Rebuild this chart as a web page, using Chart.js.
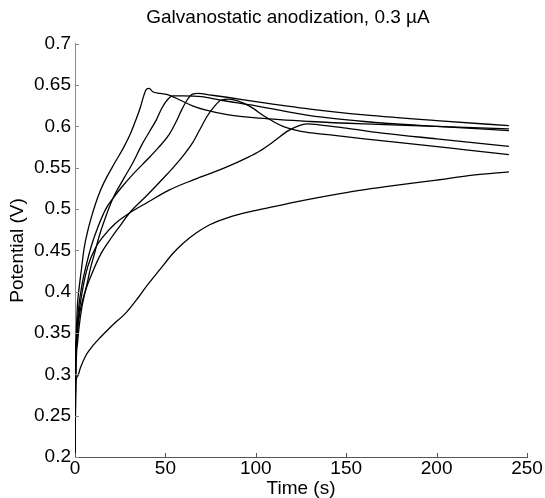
<!DOCTYPE html>
<html><head><meta charset="utf-8">
<script src="https://cdn.jsdelivr.net/npm/chart.js@4.4.1/dist/chart.umd.min.js"></script>
<style>html,body{margin:0;padding:0;background:#fff}#wrap{width:545px;height:498px}</style>
</head><body><div id="wrap"><canvas id="c" width="545" height="498"></canvas></div>
<script>
const titleText = 'Galvanostatic anodization, 0.3 µA';
const xLabel = 'Time (s)';
const yLabel = 'Potential (V)';
const xTicks = [0, 50, 100, 150, 200, 250];
const yTicks = [0.2, 0.25, 0.3, 0.35, 0.4, 0.45, 0.5, 0.55, 0.6, 0.65, 0.7];

const tA = [0,0.2,0.6,1.3,2.3,3.5,5,7.2,10,12.7,16,22,27,31,34,36,38,39.5,41,43,47,52,58,65,72,85,102,130,160,200,240];
const vA = [0.2,0.30,0.34,0.382,0.405,0.426,0.452,0.475,0.497,0.515,0.532,0.556,0.575,0.593,0.61,0.622,0.637,0.645,0.646,0.642,0.640,0.638,0.632,0.625,0.620,0.614,0.610,0.606,0.603,0.600,0.597];

const tB = [0,0.3,1,2.6,4.5,6.3,8.5,10.9,13.5,16.4,21,27.5,32,37,41,45,48,51,54,60,70,80,100,130,160,200,240];
const vB = [0.2,0.31,0.345,0.374,0.392,0.406,0.428,0.447,0.468,0.487,0.513,0.539,0.556,0.578,0.593,0.608,0.622,0.632,0.637,0.637,0.636,0.632,0.625,0.613,0.606,0.600,0.595];

const tC = [0,0.3,1,2,4,6,9,13,17,21,26,32,40,46,52,56,59,62,65,68,75,85,100,130,160,200,240];
const vC = [0.2,0.30,0.35,0.38,0.41,0.43,0.455,0.48,0.50,0.513,0.527,0.542,0.56,0.574,0.59,0.606,0.62,0.632,0.639,0.640,0.638,0.635,0.630,0.621,0.614,0.607,0.601];

const tD = [0,0.5,1.5,3,5.4,9,14.6,20,25,30,40,50,55,60,65,69,73,77,81,85,90,97,105,115,125,140,160,190,215,240];
const vD = [0.2,0.30,0.34,0.37,0.398,0.42,0.447,0.465,0.48,0.495,0.517,0.540,0.552,0.565,0.58,0.596,0.612,0.624,0.632,0.633,0.631,0.624,0.612,0.600,0.594,0.590,0.585,0.578,0.572,0.566];

const tF = [0,0.3,1,2,4,7,11.8,15.7,22,30,40,52,65,84,95,102,110,118,124,128,135,150,170,200,240];
const vF = [0.2,0.30,0.34,0.37,0.40,0.43,0.455,0.467,0.482,0.495,0.508,0.523,0.535,0.551,0.562,0.570,0.582,0.595,0.601,0.603,0.602,0.598,0.592,0.585,0.576];

const tG = [0,0.5,1.5,3,6.3,10,13.7,20,28.4,35,40,47,54,60,67,74.5,85,97,110,130,150,175,200,220,240];
const vG = [0.2,0.29,0.298,0.308,0.324,0.335,0.344,0.358,0.375,0.393,0.408,0.427,0.446,0.459,0.471,0.481,0.490,0.497,0.503,0.512,0.520,0.528,0.535,0.541,0.545];

const series = [[tA,vA],[tB,vB],[tC,vC],[tD,vD],[tF,vF],[tG,vG]];
const FONT = 'Liberation Sans, Arial, sans-serif';
const FS = 19;

const datasets = series.map(([t, v]) => ({
  data: t.map((x, i) => ({x: x, y: v[i]})),
  borderColor: '#000', borderWidth: 1.3, pointRadius: 0,
  cubicInterpolationMode: 'monotone', fill: false
}));

const insideTicks = {
  id: 'insideTicks',
  afterLayout(chart) {
    // centre the title a little left of the plot centre, as in the original figure
    const tb = chart.titleBlock;
    if (tb) { tb.left = 49; tb.right = 527; }
  },
  afterDatasetsDraw(chart) {
    const {ctx, chartArea: a, scales: {x, y}} = chart;
    ctx.save();
    ctx.lineWidth = 1;
    ctx.strokeStyle = '#555';
    xTicks.forEach(t => {
      const px = Math.round(x.getPixelForValue(t)) + 0.5;
      ctx.beginPath(); ctx.moveTo(px, a.bottom); ctx.lineTo(px, a.bottom - 4); ctx.stroke();
    });
    ctx.strokeStyle = '#888';
    yTicks.forEach(t => {
      const py = Math.round(y.getPixelForValue(t)) + 0.5;
      ctx.beginPath(); ctx.moveTo(a.left, py); ctx.lineTo(a.left + 4, py); ctx.stroke();
    });
    ctx.restore();
  }
};

new Chart(document.getElementById('c'), {
  type: 'line',
  data: { datasets },
  plugins: [insideTicks],
  options: {
    responsive: false, animation: false,
    layout: { padding: { left: 0, right: 18, top: 0, bottom: 0 } },
    plugins: {
      legend: { display: false }, tooltip: { enabled: false },
      title: { display: true, text: titleText, color: '#000',
        font: { family: FONT, size: FS, weight: 'normal' }, padding: { top: 6, bottom: 15 } }
    },
    scales: {
      x: {
        type: 'linear', min: 0, max: 250,
        afterBuildTicks: s => { s.ticks = xTicks.map(v => ({value: v})); },
        afterFit: s => { s.height = 41; },
        grid: { display: false, drawTicks: false },
        border: { display: true, color: '#555', width: 1 },
        ticks: { color: '#000', font: { family: FONT, size: FS, lineHeight: 1 }, padding: 2, maxRotation: 0, callback: v => String(v) },
        title: { display: true, text: xLabel, color: '#000', font: { family: FONT, size: FS, lineHeight: 1 }, padding: { top: 0, bottom: 0 } }
      },
      y: {
        type: 'linear', min: 0.2, max: 0.7,
        afterBuildTicks: s => { s.ticks = yTicks.map(v => ({value: v})); },
        afterFit: s => { s.width = 75; },
        grid: { display: false, drawTicks: false },
        border: { display: true, color: '#888', width: 1 },
        ticks: { color: '#000', font: { family: FONT, size: FS }, padding: 4, callback: v => String(+v.toFixed(2)) },
        title: { display: true, text: yLabel, color: '#000', font: { family: FONT, size: FS, lineHeight: 1 }, padding: { top: 8, bottom: 0 } }
      }
    }
  }
});
</script>
</body></html>
